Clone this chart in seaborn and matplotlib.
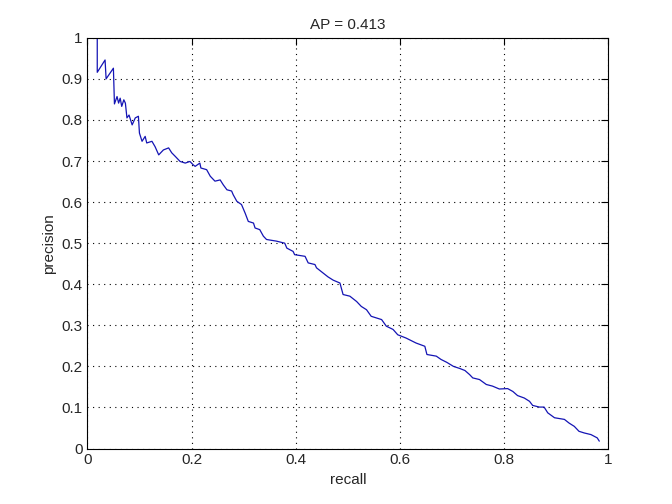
import matplotlib
matplotlib.use("Agg")
import matplotlib.pyplot as plt
import seaborn as sns
import pandas as pd

# Precision-recall values
recall = [0.019, 0.019, 0.034, 0.036, 0.050, 0.052, 0.057, 0.060, 0.063, 0.066,
          0.070, 0.073, 0.076, 0.080, 0.086, 0.092, 0.098, 0.100, 0.105, 0.111,
          0.114, 0.124, 0.130, 0.137, 0.146, 0.156, 0.162, 0.169, 0.178, 0.188,
          0.197, 0.203, 0.207, 0.216, 0.218, 0.229, 0.236, 0.245, 0.255, 0.261,
          0.268, 0.277, 0.280, 0.287, 0.296, 0.303, 0.309, 0.319, 0.322, 0.331,
          0.338, 0.344, 0.363, 0.379, 0.383, 0.395, 0.398, 0.418, 0.424, 0.437,
          0.440, 0.450, 0.462, 0.472, 0.485, 0.491, 0.504, 0.517, 0.526, 0.536,
          0.545, 0.565, 0.574, 0.587, 0.596, 0.612, 0.631, 0.648, 0.652, 0.670,
          0.679, 0.690, 0.703, 0.715, 0.725, 0.734, 0.740, 0.753, 0.766, 0.778,
          0.791, 0.807, 0.817, 0.826, 0.839, 0.849, 0.855, 0.868, 0.877, 0.884,
          0.897, 0.916, 0.925, 0.935, 0.944, 0.954, 0.967, 0.979, 0.983]
precision = [1.000, 0.916, 0.946, 0.900, 0.926, 0.839, 0.857, 0.841, 0.853, 0.833,
             0.849, 0.841, 0.805, 0.812, 0.788, 0.805, 0.809, 0.768, 0.748, 0.760,
             0.744, 0.748, 0.735, 0.715, 0.727, 0.732, 0.720, 0.711, 0.699, 0.695,
             0.699, 0.691, 0.687, 0.695, 0.683, 0.679, 0.663, 0.651, 0.654, 0.642,
             0.630, 0.627, 0.618, 0.602, 0.594, 0.573, 0.553, 0.549, 0.537, 0.533,
             0.517, 0.509, 0.505, 0.500, 0.488, 0.480, 0.472, 0.468, 0.452, 0.448,
             0.440, 0.430, 0.418, 0.410, 0.403, 0.375, 0.371, 0.358, 0.346, 0.338,
             0.322, 0.314, 0.298, 0.290, 0.277, 0.269, 0.257, 0.249, 0.229, 0.225,
             0.217, 0.210, 0.200, 0.195, 0.190, 0.180, 0.172, 0.168, 0.156, 0.152,
             0.145, 0.146, 0.139, 0.129, 0.123, 0.115, 0.105, 0.101, 0.101, 0.087,
             0.075, 0.071, 0.062, 0.054, 0.042, 0.038, 0.034, 0.026, 0.018]
ticks = [0, 0.1, 0.2, 0.3, 0.4, 0.5, 0.6, 0.7, 0.8, 0.9, 1]
tick_labels = ["0", "0.1", "0.2", "0.3", "0.4", "0.5", "0.6", "0.7", "0.8", "0.9", "1"]
xticks = [0, 0.2, 0.4, 0.6, 0.8, 1]
xtick_labels = ["0", "0.2", "0.4", "0.6", "0.8", "1"]
ap = 0.413

df = pd.DataFrame({"recall": recall, "precision": precision})

sns.set_style("white")
plt.rcParams["font.family"] = ["Liberation Sans", "DejaVu Sans"]

fig = plt.figure(figsize=(6.72, 5.04), dpi=100)
ax = fig.add_axes([0.13, 0.11, 0.775, 0.815])

# dunkleres Blau wie im Original (duenne Linie)
sns.lineplot(data=df, x="recall", y="precision", sort=False, estimator=None,
             color="#1414b4", linewidth=0.9, ax=ax)

ax.set_xlim(0, 1)
ax.set_ylim(0, 1)
ax.set_xticks(xticks)
ax.set_xticklabels(xtick_labels)
ax.set_yticks(ticks)
ax.set_yticklabels(tick_labels)
ax.grid(True, linestyle=(0, (1, 4)), color="k", linewidth=0.8)
ax.tick_params(direction="in", length=5, top=True, right=True, labelsize=11,
               color="k", width=0.8)
for s in ax.spines.values():
    s.set_color("k")
    s.set_linewidth(0.8)

ax.set_title("AP = %.3f" % ap, fontsize=11)
ax.set_xlabel("recall", fontsize=11)
ax.set_ylabel("precision", fontsize=11)

fig.savefig("out.png", dpi=100)
